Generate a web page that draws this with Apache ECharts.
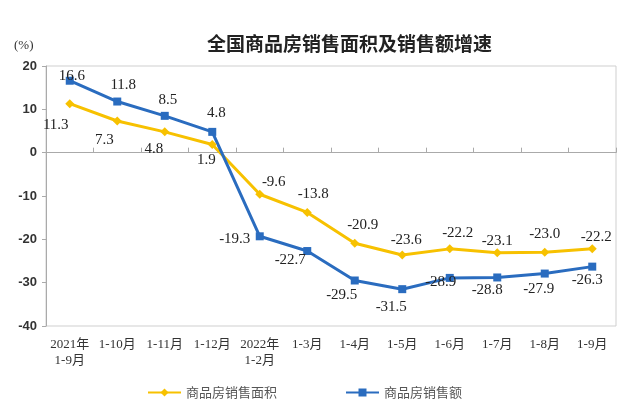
<!DOCTYPE html>
<html>
<head>
<meta charset="utf-8">
<script src="https://cdn.jsdelivr.net/npm/echarts@6/dist/echarts.min.js"></script>
<style>
html,body{margin:0;padding:0;background:#fff;}
#c{width:635px;height:416px;}
</style>
</head>
<body>
<div id="c"></div>
<script>
const categories = ['2021年\n1-9月','1-10月','1-11月','1-12月','2022年\n1-2月','1-3月','1-4月','1-5月','1-6月','1-7月','1-8月','1-9月'];
const areaName = '商品房销售面积';
const salesName = '商品房销售额';
const areaValues = [11.3, 7.3, 4.8, 1.9, -9.6, -13.8, -20.9, -23.6, -22.2, -23.1, -23.0, -22.2];
const salesValues = [16.6, 11.8, 8.5, 4.8, -19.3, -22.7, -29.5, -31.5, -28.9, -28.8, -27.9, -26.3];
const yTicks = [20, 10, 0, -10, -20, -30, -40];

// label placement (style only)
const areaLabelOffsets = [[-14,21],[-13,19],[-11,17],[-6,16],[14,-12],[6,-18],[8,-18],[4,-15],[8,-16],[0,-12],[0,-18],[4,-12]];
const salesLabelOffsets = [[2,-5],[6,-16],[3,-16],[4,-19],[-25,3],[-17,9],[-13,15],[-11,18],[-9,4],[-10,13],[-6,15],[-5,13]];

const YELLOW = '#F7C100';
const BLUE = '#2A6CBF';
const serif = '"Liberation Serif","Times New Roman","Noto Sans CJK SC",serif';

function build(vals, offs){
  return vals.map((v,i)=>({value:v, label:{offset:offs[i]}}));
}
const fmt = p => Number(p.value).toFixed(1);

const chart = echarts.init(document.getElementById('c'), null, {renderer:'canvas'});
chart.setOption({
  animation:false,
  backgroundColor:'#fff',
  title:{
    text:'全国商品房销售面积及销售额增速',
    left:202, top:29,
    textStyle:{fontSize:19, fontWeight:'bold', color:'#222', fontFamily:'"Noto Sans CJK SC",sans-serif'}
  },
  graphic:[{
    type:'text', left:14, top:39,
    style:{text:'(%)', fontSize:13, fill:'#333', fontFamily:serif}
  }],
  legend:{
    left:142, top:381,
    itemWidth:33, itemHeight:10, itemGap:68,
    textStyle:{fontSize:13, color:'#555', fontFamily:'"Noto Sans CJK SC",sans-serif'},
    data:[areaName, salesName]
  },
  grid:{left:46, right:19, top:66, bottom:90, containLabel:false, show:true, borderColor:'#cfcfcf', borderWidth:1},
  xAxis:{
    type:'category', data:categories, boundaryGap:true,
    axisLine:{lineStyle:{color:'#aaa'}},
    axisTick:{show:true, inside:true, length:5, lineStyle:{color:'#aaa'}},
    axisLabel:{fontSize:13, color:'#333', fontFamily:serif, margin:11, lineHeight:16, interval:0}
  },
  yAxis:{
    type:'value', min:-40, max:20, interval:10,
    splitLine:{show:false},
    axisLine:{show:true, lineStyle:{color:'#aaa'}},
    axisTick:{show:true, length:4, lineStyle:{color:'#aaa'}},
    axisLabel:{fontSize:13, fontWeight:'bold', color:'#333', fontFamily:'"Liberation Sans",Arial,sans-serif', margin:9}
  },
  series:[
    {
      name:areaName, type:'line', data:build(areaValues, areaLabelOffsets),
      symbol:'diamond', symbolSize:9,
      lineStyle:{color:YELLOW, width:3}, itemStyle:{color:YELLOW},
      label:{show:true, position:'inside', fontSize:15, color:'#222', fontFamily:serif, formatter:fmt}
    },
    {
      name:salesName, type:'line', data:build(salesValues, salesLabelOffsets),
      symbol:'rect', symbolSize:8,
      lineStyle:{color:BLUE, width:3}, itemStyle:{color:BLUE},
      label:{show:true, position:'inside', fontSize:15, color:'#222', fontFamily:serif, formatter:fmt}
    }
  ]
});
</script>
</body>
</html>
